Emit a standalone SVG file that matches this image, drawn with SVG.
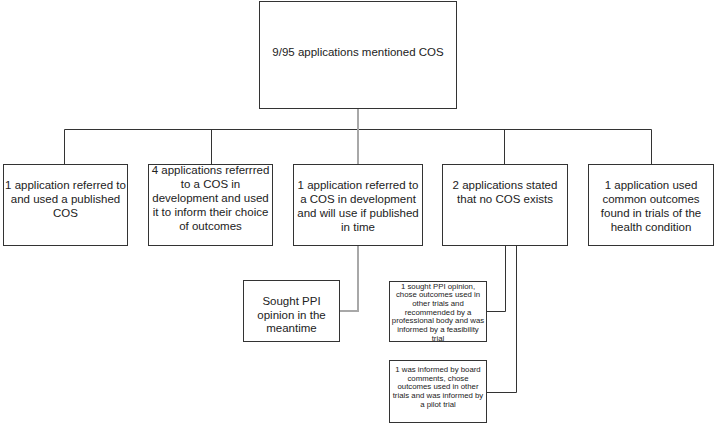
<svg xmlns="http://www.w3.org/2000/svg" width="716" height="424" viewBox="0 0 716 424">
<style>
.box{fill:#fff;stroke:#333;stroke-width:1}
.ln{fill:none;stroke:#333;stroke-width:1}
.gl{fill:none;stroke:#a8a8a8;stroke-width:2}
text{font-family:"Liberation Sans",Arial,sans-serif;fill:#222;text-anchor:middle}
.m{font-size:11.5px}
.s{font-size:7.8px}
</style>
<rect width="716" height="424" fill="#fff"/>
<g id="connectors">
<path class="ln" d="M64.5 164V129.5H651.5V164"/>
<path class="ln" d="M211.5 129.5V164M504.5 129.5V164"/>
<path class="gl" d="M358 108V164"/>
<path class="gl" d="M358 245V311H339"/>
<path class="ln" d="M505.5 245V311.5H486.5"/>
<path class="ln" d="M516.5 245V392.5H486.5"/>
</g>
<g id="root"><rect class="box" x="259.5" y="1.5" width="197" height="107"/><text class="m" x="358" y="56">9/95 applications mentioned COS</text></g>
<g id="n1"><rect class="box" x="3.5" y="164.5" width="124" height="81"/><text class="m" y="189"><tspan x="65.5">1 application referred to</tspan><tspan x="65.5" dy="14">and used a published</tspan><tspan x="65.5" dy="14">COS</tspan></text></g>
<g id="n2"><rect class="box" x="148.5" y="164.5" width="124" height="81"/><text class="m" y="174"><tspan x="210.5">4 applications referrred</tspan><tspan x="210.5" dy="14">to a COS in</tspan><tspan x="210.5" dy="14">development and used</tspan><tspan x="210.5" dy="14">it to inform their choice</tspan><tspan x="210.5" dy="14">of outcomes</tspan></text></g>
<g id="n3"><rect class="box" x="293.5" y="164.5" width="129" height="81"/><text class="m" y="189"><tspan x="358">1 application referred to</tspan><tspan x="358" dy="14">a COS in development</tspan><tspan x="358" dy="14">and will use if published</tspan><tspan x="358" dy="14">in time</tspan></text></g>
<g id="n4"><rect class="box" x="442.5" y="164.5" width="125" height="81"/><text class="m" y="189"><tspan x="505">2 applications stated</tspan><tspan x="505" dy="14">that no COS exists</tspan></text></g>
<g id="n5"><rect class="box" x="588.5" y="164.5" width="125" height="81"/><text class="m" y="189"><tspan x="651">1 application used</tspan><tspan x="651" dy="14">common outcomes</tspan><tspan x="651" dy="14">found in trials of the</tspan><tspan x="651" dy="14">health condition</tspan></text></g>
<g id="n6"><rect class="box" x="243.5" y="280.5" width="96" height="61"/><text class="m" y="305"><tspan x="291.5">Sought PPI</tspan><tspan x="291.5" dy="13.5">opinion in the</tspan><tspan x="291.5" dy="13.5">meantime</tspan></text></g>
<g id="n7"><rect class="box" x="389.5" y="281.5" width="97" height="60"/><text class="s" y="288.5"><tspan x="438">1 sought PPI opinion,</tspan><tspan x="438" dy="8.7">chose outcomes used in</tspan><tspan x="438" dy="8.7">other trials and</tspan><tspan x="438" dy="8.7">recommended by a</tspan><tspan x="438" dy="8.7">professional body and was</tspan><tspan x="438" dy="8.7">informed by a feasibility</tspan><tspan x="438" dy="8.7">trial</tspan></text></g>
<g id="n8"><rect class="box" x="389.5" y="360.5" width="97" height="62"/><text class="s" y="372"><tspan x="438">1 was informed by board</tspan><tspan x="438" dy="8.7">comments, chose</tspan><tspan x="438" dy="8.7">outcomes used in other</tspan><tspan x="438" dy="8.7">trials and was informed by</tspan><tspan x="438" dy="8.7">a pilot trial</tspan></text></g>
</svg>
